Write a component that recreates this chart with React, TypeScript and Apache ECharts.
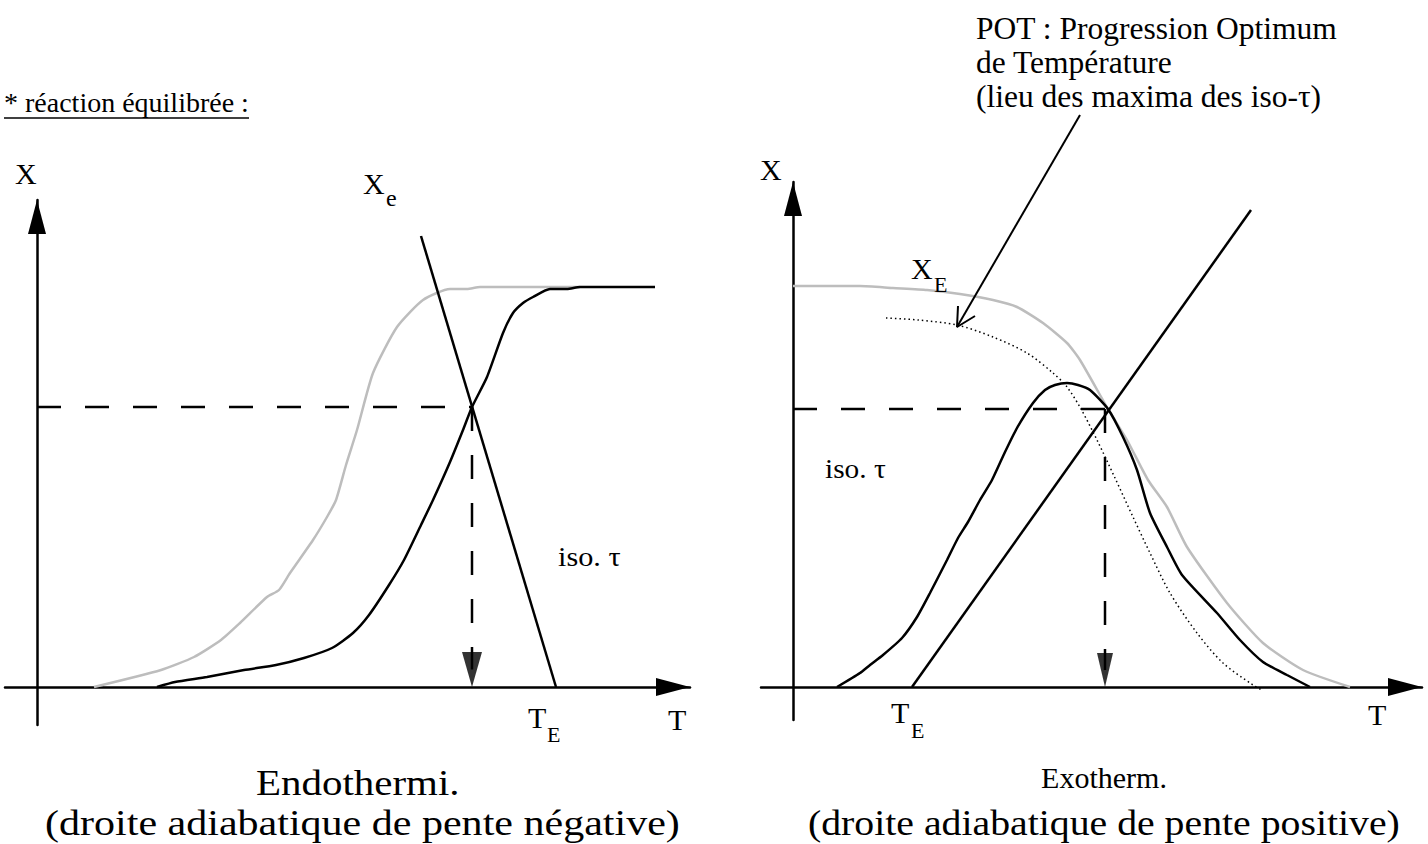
import { useEffect, useRef } from "react";
import * as echarts from "echarts";

// ---- Left panel (endothermic), units: T and X in arbitrary schematic units ----
const leftEquilibrium = [
  [5.7, 0], [12.4, 1.7], [15.7, 3.0], [18.4, 4.7], [20.3, 6.4], [23.0, 9.0], [24.2, 9.7],
  [25.3, 11.4], [27.6, 14.7], [29.0, 17.0], [29.9, 18.7], [30.9, 22.2], [32.0, 25.7],
  [33.6, 31.4], [36.0, 36.0], [38.6, 38.7], [41.3, 39.8], [43.0, 39.8], [44.3, 40.0], [54.3, 40.0],
];
const leftIsoTau = [
  [12.0, 0], [13.8, 0.5], [17.0, 1.0], [20.7, 1.7], [23.9, 2.2], [26.7, 2.9], [29.5, 3.9],
  [31.6, 5.4], [33.2, 7.2], [35.2, 10.2], [36.7, 12.7], [38.4, 16.2], [39.6, 18.7], [41.3, 22.5],
  [42.6, 25.7], [43.5, 28.0], [45.0, 31.0], [46.6, 35.4], [47.6, 37.4], [48.6, 38.4], [49.6, 39.0],
  [51.3, 39.8], [53.0, 39.8], [54.3, 40.0], [61.8, 40.0],
];
const leftAdiabatic = [[38.4, 45.1], [51.9, 0]];
const leftOperating = [43.5, 28.0];
const leftArrowEnd = 1.75;

// ---- Right panel (exothermic) ----
const rightEquilibrium = [
  [0, 40.1], [6.7, 40.1], [10.0, 39.9], [13.4, 39.7], [16.7, 39.3], [20.0, 38.7], [22.4, 38.0],
  [25.0, 36.4], [27.4, 34.4], [28.7, 32.7], [31.5, 27.8], [33.4, 24.7], [35.5, 20.7], [37.4, 18.0],
  [39.4, 14.0], [43.4, 8.4], [47.0, 4.4], [51.0, 1.7], [55.7, 0],
];
const rightIsoTau = [
  [4.4, 0], [6.7, 1.4], [7.7, 2.2], [9.0, 3.2], [10.9, 4.9], [12.4, 7.0], [13.7, 9.4], [15.4, 12.7],
  [16.5, 14.9], [17.5, 16.5], [18.7, 18.7], [19.9, 20.7], [21.2, 23.5], [22.4, 25.9], [24.0, 28.4],
  [25.2, 29.7], [26.2, 30.2], [27.4, 30.4], [28.5, 30.2], [29.7, 29.7], [31.5, 27.8], [33.0, 25.0],
  [34.4, 21.7], [35.7, 17.4], [37.4, 14.0], [38.9, 11.2], [42.4, 7.4], [44.7, 4.7], [47.0, 2.5],
  [49.4, 1.2], [51.7, 0],
];
const rightPOT = [
  [9.3, 36.9], [12.5, 36.7], [16.4, 36.2], [20.0, 35.0], [23.4, 33.4], [26.0, 31.4], [27.4, 30.0],
  [28.8, 27.8], [30.4, 24.7], [32.2, 20.9], [34.0, 17.0], [35.7, 13.4], [37.7, 9.4], [40.4, 5.4],
  [43.0, 2.4], [46.0, 0.2], [46.9, -0.3],
];
const rightAdiabatic = [[11.9, 0], [45.8, 47.7]];
const rightOperating = [31.5, 27.8];
const rightDropT = 31.2;
const rightArrowEnd = 1.7;
const potPointer = [[28.7, 57.2], [16.4, 36.0]];
const potPointerHead = [[16.5, 38.1], [16.4, 36.0], [18.2, 37.1]];

const SERIF = "Liberation Serif";

function axisLine() {
  return {
    show: true,
    onZero: true,
    lineStyle: { color: "#000", width: 2.5 },
    symbol: ["none", "triangle"],
    symbolSize: [18, 34],
    symbolOffset: [0, -17],
  };
}

function valueAxis(gridIndex: number, min: number, max: number) {
  return {
    type: "value",
    gridIndex,
    min,
    max,
    axisLine: axisLine(),
    axisTick: { show: false },
    axisLabel: { show: false },
    splitLine: { show: false },
  };
}

function lineSeries(name: string, idx: number, data: number[][], style: any, extra: any = {}) {
  return {
    name,
    type: "line",
    xAxisIndex: idx,
    yAxisIndex: idx,
    data,
    symbol: "none",
    showSymbol: false,
    silent: true,
    lineStyle: style,
    z: 3,
    ...extra,
  };
}

function txt(text: string, x: number, baseline: number, size: number, opts: any = {}) {
  const { scaleX = 1, align = "left" } = opts;
  return {
    type: "text",
    x,
    y: baseline - size * 0.34,
    scaleX,
    z: 10,
    style: {
      text,
      fontFamily: SERIF,
      fontSize: size,
      fill: "#000",
      align,
      verticalAlign: "middle",
    },
  };
}

export default function App() {
  const ref = useRef<HTMLDivElement>(null);

  useEffect(() => {
    if (!ref.current) return;
    const chart = echarts.init(ref.current, null, { renderer: "svg" });
    const black = { color: "#000", width: 2.5 };
    const gray = { color: "#bdbdbd", width: 2.5 };
    const dashed = { color: "#000", width: 2.5, type: [24, 24] };

    const option: any = {
      animation: false,
      backgroundColor: "#fff",
      grid: [
        { left: 5, top: 200, width: 685, height: 525 },
        { left: 761, top: 182, width: 661, height: 538 },
      ],
      xAxis: [valueAxis(0, -3.2, 65.3), valueAxis(1, -3.2, 62.9)],
      yAxis: [valueAxis(0, -3.8, 48.7), valueAxis(1, -3.3, 50.5)],
      series: [
        // left
        lineSeries("Xe", 0, leftEquilibrium, gray, { smooth: 0.2 }),
        lineSeries("iso τ", 0, leftIsoTau, black, { smooth: 0.2 }),
        lineSeries("adiabatique", 0, leftAdiabatic, black),
        lineSeries("palier", 0, [[0, leftOperating[1]], leftOperating], dashed),
        lineSeries("chute", 0, [leftOperating, [leftOperating[0], leftArrowEnd]], dashed),
        {
          type: "scatter",
          xAxisIndex: 0,
          yAxisIndex: 0,
          data: [[leftOperating[0], leftArrowEnd]],
          symbol: "triangle",
          symbolRotate: 180,
          symbolSize: [20, 35],
          itemStyle: { color: "#000" },
          silent: true,
          z: 4,
        },
        // right
        lineSeries("XE", 1, rightEquilibrium, gray, { smooth: 0.2 }),
        lineSeries("POT", 1, rightPOT, { color: "#000", width: 1.5, type: [1.5, 3] }, { smooth: 0.3 }),
        lineSeries("iso τ (exo)", 1, rightIsoTau, black, { smooth: 0.2 }),
        lineSeries("adiabatique (exo)", 1, rightAdiabatic, black),
        lineSeries("palier (exo)", 1, [[0, rightOperating[1]], rightOperating], dashed),
        lineSeries("chute (exo)", 1, [[rightDropT, rightOperating[1]], [rightDropT, rightArrowEnd]], dashed),
        {
          type: "scatter",
          xAxisIndex: 1,
          yAxisIndex: 1,
          data: [[rightDropT, rightArrowEnd]],
          symbol: "triangle",
          symbolRotate: 180,
          symbolSize: [16, 34],
          itemStyle: { color: "#000" },
          silent: true,
          z: 4,
        },
        lineSeries("pointeur", 1, potPointer, { color: "#000", width: 2 }, { clip: false }),
        lineSeries("pointe", 1, potPointerHead, { color: "#000", width: 2 }, { clip: false }),
      ],
      graphic: [
        txt("* réaction équilibrée :", 4, 112, 28),
        { type: "line", z: 10, shape: { x1: 4, y1: 118, x2: 249, y2: 118 }, style: { stroke: "#000", lineWidth: 1.5 } },
        txt("X", 15, 184, 30),
        txt("X", 363, 194, 30),
        txt("e", 386, 206, 24),
        txt("iso. τ", 558, 566, 28, { scaleX: 1.08 }),
        txt("T", 528, 728, 30),
        txt("E", 547, 742, 22),
        txt("T", 668, 730, 30),
        txt("Endothermi.", 256, 795, 35, { scaleX: 1.17 }),
        txt("(droite adiabatique de pente négative)", 45, 835, 36, { scaleX: 1.168 }),

        txt("POT : Progression Optimum", 976, 39, 31.5),
        txt("de Température", 976, 73, 31.5),
        txt("(lieu des maxima des iso-τ)", 976, 107, 31.5),
        txt("X", 760, 180, 30),
        txt("X", 911, 279, 30),
        txt("E", 934, 292, 22),
        txt("iso. τ", 825, 478, 28, { scaleX: 1.05 }),
        txt("T", 891, 723, 30),
        txt("E", 911, 738, 22),
        txt("T", 1368, 725, 30),
        txt("Exotherm.", 1104, 788, 30, { align: "center" }),
        txt("(droite adiabatique de pente positive)", 808, 835, 36, { scaleX: 1.105 }),
      ],
    };
    chart.setOption(option);
    return () => chart.dispose();
  }, []);

  return (
    <div
      ref={ref}
      style={{ position: "fixed", left: 0, top: 0, width: 1428, height: 844, background: "#fff" }}
    />
  );
}
